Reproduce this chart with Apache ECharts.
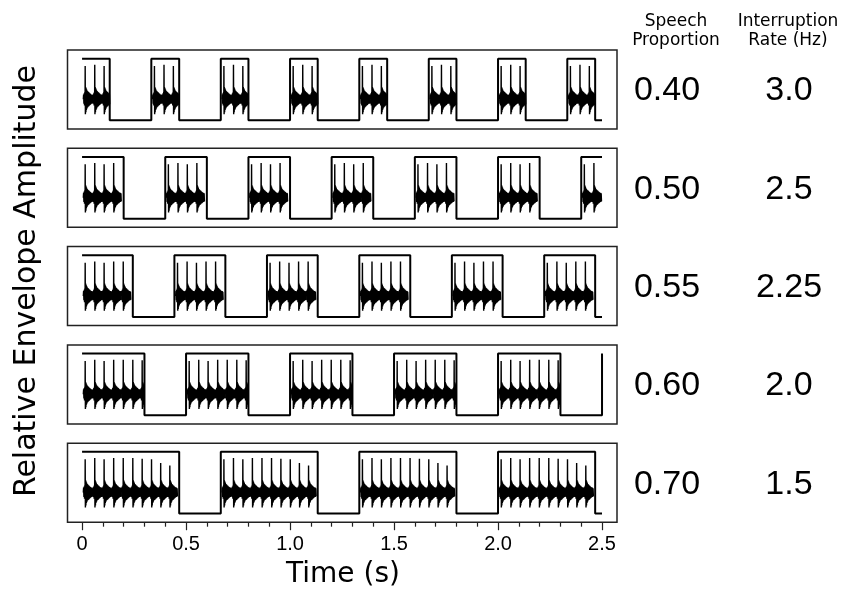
<!DOCTYPE html>
<html><head><meta charset="utf-8">
<script src="https://cdn.jsdelivr.net/npm/echarts@6/dist/echarts.min.js"></script>
<style>html,body{margin:0;padding:0;background:#fff}#c{width:843px;height:589px}</style>
</head><body><div id="c"></div>
<script>
// ---------------- data ----------------
const speechProportionLabels = ['0.40', '0.50', '0.55', '0.60', '0.70'];
const interruptionRateLabels = ['3.0', '2.5', '2.25', '2.0', '1.5'];
// gate (speech on) onsets / offsets in seconds, per panel
const gateOnsets = [
  [0, 0.333, 0.667, 1.0, 1.333, 1.667, 2.0, 2.333],
  [0, 0.4, 0.8, 1.2, 1.6, 2.0, 2.4],
  [0, 0.444, 0.889, 1.333, 1.778, 2.222],
  [0, 0.5, 1.0, 1.5, 2.0, 2.5],
  [0, 0.667, 1.333, 2.0]
];
const gateOffsets = [
  [0.133, 0.467, 0.8, 1.133, 1.467, 1.8, 2.133, 2.467],
  [0.2, 0.6, 1.0, 1.4, 1.8, 2.2, 2.5],
  [0.244, 0.689, 1.133, 1.578, 2.022, 2.467],
  [0.3, 0.8, 1.3, 1.8, 2.3, 2.5],
  [0.467, 1.133, 1.8, 2.467]
];
const traceEnd = 2.5;
// pitch-pulse positions inside each speech block (s after onset) and peak amplitudes
const pulseOffsets = [0.015, 0.061, 0.106, 0.152, 0.198, 0.244, 0.289, 0.334, 0.378, 0.422];
const pulsePeaks   = [0.88, 0.90, 0.88, 0.90, 0.90, 0.90, 0.89, 0.88, 0.82, 0.78];
const xTickValues = [0, 0.5, 1.0, 1.5, 2.0, 2.5];
const xTickLabels = ['0', '0.5', '1.0', '1.5', '2.0', '2.5'];
const yTitle = 'Relative Envelope Amplitude';
const xTitle = 'Time (s)';
const header1 = ['Speech', 'Proportion'];
const header2 = ['Interruption', 'Rate (Hz)'];

// ---------------- layout / style ----------------
const L = 67.5, W = 549.5, H = 79;
const tops = [50, 148.3, 246.6, 344.9, 443.2];
const XMIN = -0.07, XMAX = 2.572, YMIN = -0.14, YMAX = 1.14;
const pxPerSec = W / (XMAX - XMIN);
// waveform glyph drawn at each pitch pulse: [ms offset, level] (P = peak)
const glyph = [[-9,0.34],[-7.5,0.42],[-6,0.27],[-4.5,0.44],[-3,0.24],[-1.5,0.46],[-0.6,0.28],[0,'P'],
  [1,0.10],[2.2,0.54],[3.4,0.13],[4.6,0.52],[5.8,0.17],[7,0.50],[8.4,0.19],[9.8,0.48],[11.2,0.21],
  [12.6,0.47],[14,0.22],[15.6,0.46],[17.2,0.23],[18.8,0.45],[20.4,0.24],[22,0.44],[23.6,0.25],
  [25.2,0.43],[26.8,0.26],[28.4,0.42],[30,0.27],[31.6,0.42],[33.2,0.27],[34.8,0.41],[36.4,0.28]];

const grids = [], xAxes = [], yAxes = [], series = [];
for (let i = 0; i < 5; i++) {
  grids.push({left: L, top: tops[i], width: W, height: H, show: true,
    borderColor: '#222', borderWidth: 1.5, backgroundColor: 'transparent'});
  xAxes.push({gridIndex: i, type: 'value', min: XMIN, max: XMAX, show: false});
  yAxes.push({gridIndex: i, type: 'value', min: YMIN, max: YMAX, show: false});
  // gate envelope
  const pts = [];
  const on = gateOnsets[i], off = gateOffsets[i];
  for (let k = 0; k < on.length; k++) {
    if (k === 0 && on[k] === 0) pts.push([0, 1]);
    else { pts.push([on[k], 0]); pts.push([on[k], 1]); }
    pts.push([off[k], 1]);
    if (off[k] < traceEnd) pts.push([off[k], 0]);
  }
  if (off[off.length - 1] < traceEnd) pts.push([traceEnd, 0]);
  series.push({type: 'line', xAxisIndex: i, yAxisIndex: i, data: pts, showSymbol: false,
    lineStyle: {color: '#000', width: 2}, animation: false, z: 3});
  // speech waveform pulses
  const pulses = [];
  for (let k = 0; k < on.length; k++) {
    for (let j = 0; j < pulseOffsets.length; j++) {
      if (on[k] + pulseOffsets[j] < off[k] - 0.005)
        pulses.push([on[k] + pulseOffsets[j], pulsePeaks[j], on[k], off[k]]);
    }
  }
  series.push({type: 'custom', xAxisIndex: i, yAxisIndex: i, data: pulses, animation: false, z: 2,
    renderItem: function (params, api) {
      const t = api.value(0), pk = api.value(1), a = api.value(2), b = api.value(3);
      const p = [];
      glyph.forEach(g => {
        const tt = t + g[0] / 1000;
        if (tt >= a && tt <= b) p.push(api.coord([tt, g[1] === 'P' ? pk : g[1]]));
      });
      return {type: 'polyline', shape: {points: p},
        style: {stroke: '#000', lineWidth: 1.4, fill: null}};
    }});
}
// tick axis for bottom panel (0 .. 2.5 s)
grids.push({left: L + (0 - XMIN) * pxPerSec, top: tops[4], width: 2.5 * pxPerSec, height: H, show: false});
xAxes.push({gridIndex: 5, type: 'value', min: 0, max: 2.5, interval: 0.5, position: 'bottom',
  axisLine: {show: false},
  axisTick: {show: true, length: 8, lineStyle: {color: '#222', width: 1.2}},
  minorTick: {show: true, splitNumber: 5, length: 4.5, lineStyle: {color: '#222', width: 1.2}},
  splitLine: {show: false}, minorSplitLine: {show: false},
  axisLabel: {margin: 12, fontSize: 20, color: '#000', fontFamily: 'Liberation Sans',
    formatter: v => { const j = xTickValues.indexOf(v); return j >= 0 ? xTickLabels[j] : ''; }}});
yAxes.push({gridIndex: 5, type: 'value', min: 0, max: 1, show: false});

const graphics = [];
graphics.push({type: 'text', x: 27, y: 281, rotation: Math.PI / 2,
  style: {text: yTitle, font: '30px "DejaVu Sans"', fill: '#000', align: 'center', verticalAlign: 'middle'}});
graphics.push({type: 'text', x: 343, y: 575,
  style: {text: xTitle, font: '28px "DejaVu Sans"', fill: '#000', align: 'center', verticalAlign: 'middle'}});
graphics.push({type: 'text', x: 676, y: 31,
  style: {text: header1.join('\n'), font: '17px "DejaVu Sans"', lineHeight: 19, fill: '#000', align: 'center', verticalAlign: 'middle'}});
graphics.push({type: 'text', x: 788, y: 31,
  style: {text: header2.join('\n'), font: '17px "DejaVu Sans"', lineHeight: 19, fill: '#000', align: 'center', verticalAlign: 'middle'}});
for (let i = 0; i < 5; i++) {
  const cy = tops[i] + H / 2 + 1.5;
  graphics.push({type: 'text', x: 667, y: cy,
    style: {text: speechProportionLabels[i], font: '34px "Liberation Sans"', fill: '#000', align: 'center', verticalAlign: 'middle'}});
  graphics.push({type: 'text', x: 789, y: cy,
    style: {text: interruptionRateLabels[i], font: '34px "Liberation Sans"', fill: '#000', align: 'center', verticalAlign: 'middle'}});
}

const chart = echarts.init(document.getElementById('c'), null, {renderer: 'canvas'});
chart.setOption({animation: false, backgroundColor: '#fff', grid: grids, xAxis: xAxes, yAxis: yAxes,
  series: series, graphic: graphics});
</script></body></html>
